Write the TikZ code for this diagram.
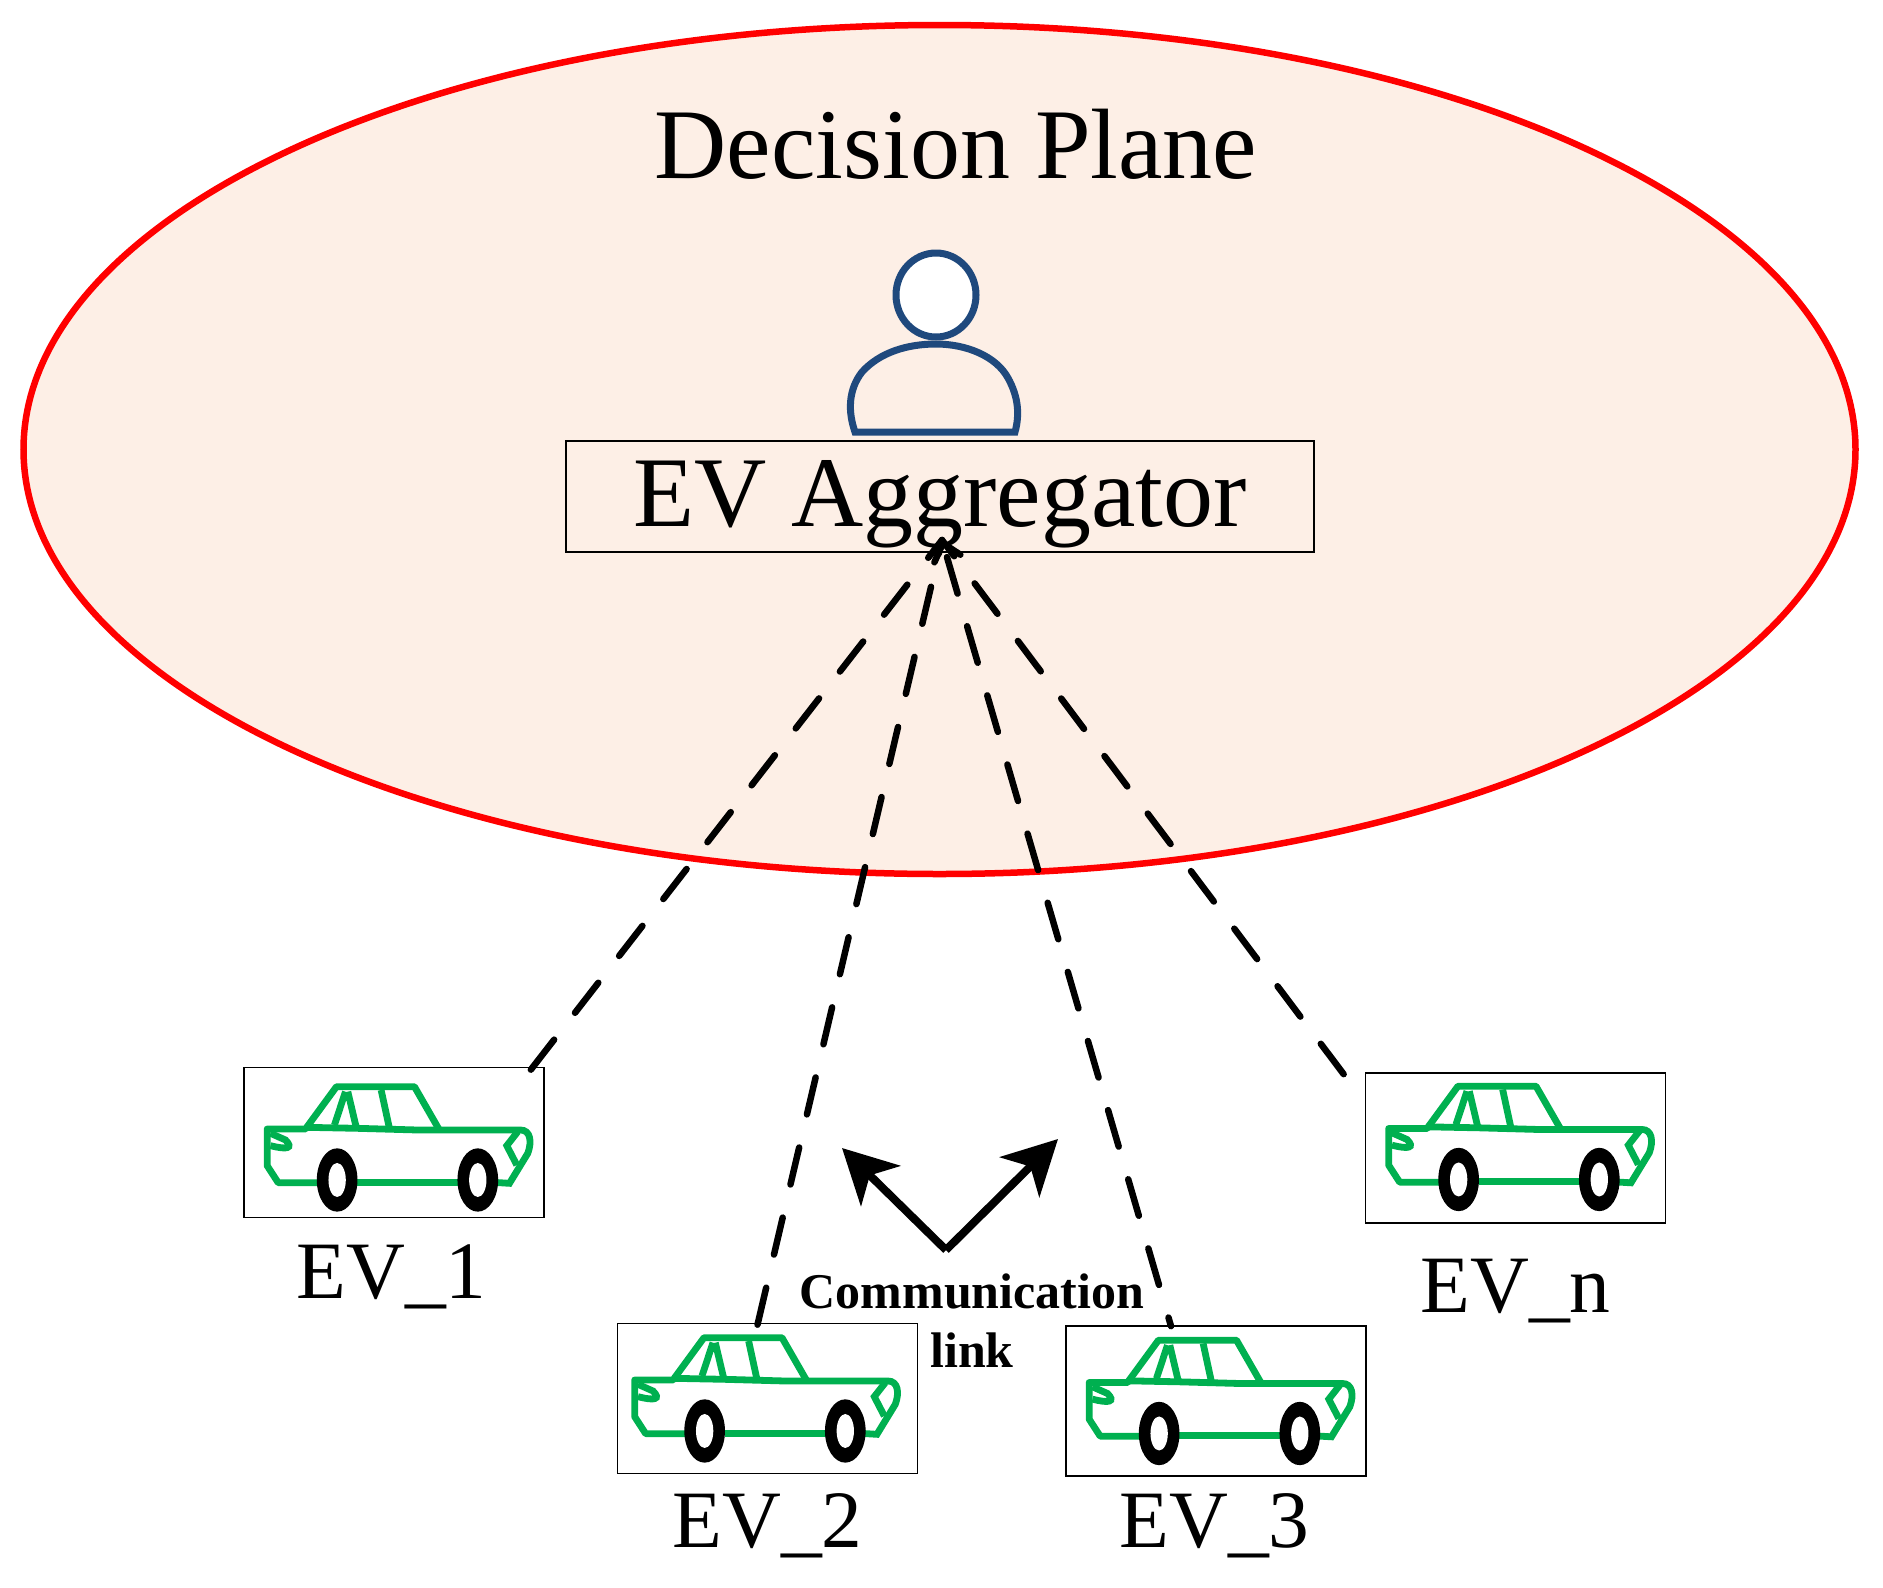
\documentclass[tikz,border=0pt]{standalone}
\usepackage{fontspec}
\usepackage{xcolor}
\usepackage{tikz}
\usetikzlibrary{arrows.meta}
\setmainfont{Liberation Serif}
\definecolor{PlaneFill}{RGB}{253,239,230}
\definecolor{CarGreen}{RGB}{0,176,80}
\definecolor{PersonBlue}{RGB}{31,73,125}
\tikzset{
    carbox/.style={draw=black, line width=1.7pt, minimum width=300pt, minimum height=150pt, inner sep=0pt},
    evlabel/.style={anchor=base, font=\fontsize{81.5pt}{81.5pt}\selectfont, inner sep=0pt},
    commlabel/.style={anchor=base, font=\fontsize{50pt}{50pt}\selectfont\bfseries, inner sep=0pt},
    linkline/.style={line width=6.5pt, line cap=round, dash pattern=on 38pt off 34pt},
    commline/.style={line width=8pt, -{Stealth[length=54pt, width=56pt, inset=15pt]}}
}
\newcommand{\drawcar}[3]{
    \begin{scope}[shift={([shift={(#2,#3)}]#1.north west)}, x=0.3333pt, y=-0.3333pt, shift={(-38,-50)}]
      \draw[CarGreen, line width=6.8pt, line join=round] (272,398) -- (143,398) -- (110,347) -- (110,237) -- (225,237) -- (318,110) -- (552,110) -- (625,237);
      \draw[CarGreen, line width=6.8pt] (225,232) -- (380,235) -- (560,240) -- (870,240) .. controls (900,240) and (905,275) .. (892,310) -- (837,400) -- (787,397);
      \draw[CarGreen, line width=6.8pt] (380,397) -- (695,397);
      \draw[CarGreen, line width=6.8pt] (345,125) -- (312,225) (352,125) -- (378,235) (452,120) -- (478,240);
      \draw[CarGreen, line width=6.8pt] (120,250) -- (165,270) .. controls (190,295) and (170,300) .. (120,287);
      \draw[CarGreen, line width=6.8pt] (862,245) -- (829,287) -- (859,345);
      \fill[black] (320,390) ellipse [x radius=61, y radius=95];
      \fill[white] (320,390) ellipse [x radius=26, y radius=51];
      \fill[black] (742,390) ellipse [x radius=61, y radius=95];
      \fill[white] (742,390) ellipse [x radius=26, y radius=51];
    \end{scope}
}

\begin{document}
\begin{tikzpicture}[x=1pt, y=-1pt]
    \useasboundingbox (0,0) rectangle (1883,1588);
    \filldraw[draw=red, fill=PlaneFill, line width=6.5pt] (939.5,449.5) ellipse [x radius=916, y radius=424.5];
    \node[inner sep=0pt, anchor=base, font=\fontsize{100pt}{100pt}\selectfont] (plane) at (956,178) {Decision Plane};
    % person
    \draw[PersonBlue, line width=7pt] (855,432) .. controls (848,412) and (848,390) .. (862,372) .. controls (880,352) and (908,344) .. (936,344) .. controls (966,344) and (996,356) .. (1008,378) .. controls (1018,396) and (1020,414) .. (1015,432) -- cycle;
    \filldraw[draw=PersonBlue, fill=white, line width=7pt] (936,295) ellipse [x radius=40, y radius=42];
    \node[draw=black, line width=1.7pt, inner sep=0pt, minimum width=748pt, text height=85pt, text depth=26pt, font=\fontsize{100pt}{100pt}\selectfont] (aggregator) at (940,496.5) {EV Aggregator};
    \coordinate (tip) at (942,540);
    % EV boxes
    \node[carbox] (ev1) at (394,1142.5) {};
    \node[carbox] (ev2) at (767.5,1398.5) {};
    \node[carbox] (ev3) at (1216,1401) {};
    \node[carbox] (evn) at (1515.5,1148) {};
    \drawcar{ev1}{0}{0}
    \drawcar{ev2}{-6}{-5}
    \drawcar{ev3}{0}{-5}
    \drawcar{evn}{0}{-6}
    \node[evlabel] (lab1) at (391.5,1298) {EV\_1};
    \node[evlabel] (lab2) at (767.5,1547) {EV\_2};
    \node[evlabel] (lab3) at (1214.5,1547) {EV\_3};
    \node[evlabel] (labn) at (1515.5,1312) {EV\_n};
    % links
    \draw[linkline] ([shift={(-14,3)}]ev1.north east) -- (tip);
    \draw[linkline] ([shift={(-10,2)}]ev2.north) -- (tip);
    \draw[linkline, dash phase=29pt, -{Straight Barb[length=16pt, width=27pt, round]}] ([shift={(-45,1)}]ev3.north) -- (tip);
    \draw[linkline] ([shift={(-21,2)}]evn.north west) -- (tip);
    % communication link
    \coordinate (corner) at (946,1250);
    \coordinate (left) at (842,1148);
    \coordinate (right) at (1058,1139);
    \draw[commline] (corner) -- (left);
    \draw[commline] (corner) -- (right);
    \node[commlabel] (comm) at (972,1308) {Communication};
    \node[commlabel] (link) at (972,1367) {link};
\end{tikzpicture}
\end{document}
